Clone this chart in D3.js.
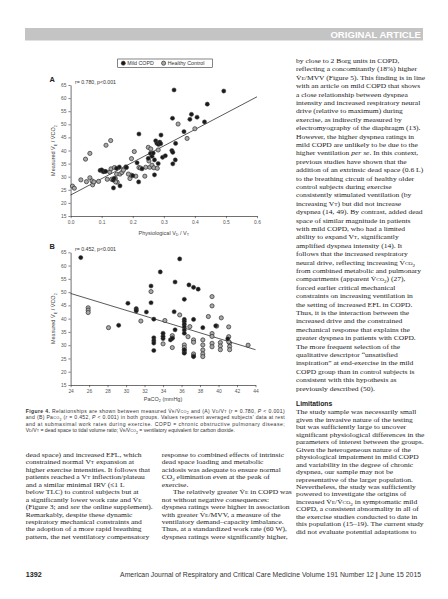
<!DOCTYPE html>
<html><head><meta charset="utf-8">
<script src="https://cdn.jsdelivr.net/npm/d3@7/dist/d3.min.js"></script>
<style>html,body{margin:0;padding:0;background:#fff;}svg{display:block;}</style>
</head><body>
<script>
// ---------------- DATA ----------------
const groups = ["Mild COPD", "Healthy Control"];
const xTicksA = [0.0, 0.1, 0.2, 0.3, 0.4, 0.5, 0.6];
const xTicksB = [24, 26, 28, 30, 32, 34, 36, 38, 40, 42, 44];
const yTicks = [15, 20, 25, 30, 35, 40, 45, 50, 55, 60, 65];
const statA = "r= 0.780, p<0.001";
const statB = "r= 0.452, p<0.001";
const regA = {intercept: 23.0, slope: 62.5};      // VE/VCO2 vs VD/VT
const regB = {intercept: 49.5, slope: -1.06, x0: 24};   // VE/VCO2 vs PaCO2

// Panel A: [VD/VT, VE/VCO2]
const copdA = [[0.333,63.1],[0.493,62.7],[0.44,57.7],[0.389,53.8],[0.407,52.7],[0.384,51.9],[0.328,52.3],[0.431,50.9],
 [0.365,47.2],[0.22,46.3],[0.291,45.9],[0.274,43.7],[0.278,42.7],[0.283,42.3],[0.287,43.2],[0.29,42.6],[0.338,42.7],
 [0.257,38.9],[0.326,40.0],[0.329,39.3],[0.296,37.4],[0.337,36.4],[0.27,36.4],[0.282,35.0],[0.329,34.9],[0.262,37.8],
 [0.266,39.0],[0.27,30.7],[0.214,35.3],[0.178,33.8],[0.095,32.4],[0.105,31.9],[0.113,32.0],[0.1,32.6],[0.137,28.7],
 [0.14,29.4],[0.138,25.7],[0.159,26.5],[0.2,30.4],[0.219,28.0],[0.157,33.7],[0.148,33.2],[0.18,33.5],[0.25,37.0],
 [0.23,33.0],[0.305,38.0]];
const healthyA = [[0.006,26.4],[0.012,25.6],[0.033,28.8],[0.048,36.7],[0.051,28.1],[0.062,38.9],[0.062,29.6],[0.069,28.4],
 [0.071,26.9],[0.09,28.2],[0.114,42.0],[0.129,43.8],[0.118,29.0],[0.126,31.8],[0.13,33.0],[0.141,33.5],[0.148,31.0],
 [0.144,29.3],[0.15,27.9],[0.159,31.0],[0.165,31.6],[0.17,32.5],[0.191,29.3],[0.195,30.6],[0.196,36.9],[0.205,39.6],
 [0.21,30.2],[0.22,33.5],[0.225,33.3],[0.239,30.2],[0.242,33.6],[0.25,41.2],[0.258,40.6],[0.255,33.6],[0.262,34.4],
 [0.268,33.4],[0.279,33.2],[0.282,40.2],[0.252,36.0],[0.346,50.1],[0.40,48.3],[0.375,44.6],[0.186,31.0],[0.132,29.0],
 [0.108,32.0],[0.075,28.0],[0.145,28.0]];

// Panel B: [PaCO2, VE/VCO2]
const copdB = [[25.1,63],[35.8,62.5],[33.7,57.6],[35.3,53.8],[32.7,52.3],[36.8,52.7],[37.3,51.8],[37.8,51.1],[36.3,47.3],
 [32.7,46],[30.2,45.8],[31.1,43.8],[31.1,43.3],[31.1,42.9],[32.2,42.5],[35.2,42.6],[33.0,39.8],[29.2,37.5],[36.3,39.7],
 [36.3,38.9],[36.3,37.9],[36.3,36.9],[36.3,35.7],[37.3,39.7],[38.3,36.6],[35.3,35.8],[33.0,32.8],[33.0,31.7],[33.0,30.8],
 [33.0,28.0],[34.0,32.5],[34.0,33.4],[34.8,32.0],[36.3,34.5],[36.3,27.0],[37.3,25.7],[39.7,37.3],[36.3,28.2],[41.0,32.4],
 [35.0,32.6],[34.0,34.5]];
const healthyB = [[25.9,44.1],[25.9,43.2],[25.9,42.3],[28.1,36.6],[31.6,39.1],[34.2,39.3],[32.7,50.2],[35.8,41.4],[36.9,37],
 [38.9,40.8],[39.3,48.3],[39.3,44.8],[39.3,34.4],[39.3,33.3],[35,33.6],[35,32.7],[35,29.1],[36.3,30.1],[36.3,29.1],
 [36.3,28.2],[36.3,27.4],[37.3,32],[37.3,31.1],[37.3,26.7],[37.3,25.9],[38.3,32],[38.3,30.1],[38.3,28.2],[38.3,26.7],
 [38.3,25.7],[39.3,30.7],[39.3,29.4],[36.7,33.2],[34.0,30.5],[40.3,40.3],[39.8,37.2],[40.2,31],[40.2,29.7],[40.2,28.3],
 [41.2,30.8],[41.2,29.5],[41.2,28.3],[41.1,36.9],[43.2,30],[41.1,33.2],[41.1,31.3]];

// ---------------- TEXT ----------------
const headerText = "ORIGINAL ARTICLE";
const captionLines = [
 "#Figure 4.#  Relationships are shown between measured V\u0307{E}/V\u0307{CO}[2] and (A) V{D}/V{T} (*r* = 0.780, *P* < 0.001)",
 "and (B) Pa{CO}[2] (*r* = 0.452, *P* < 0.001) in both groups. Values represent averaged subjects' data at rest",
 "and at submaximal work rates during exercise. COPD = chronic obstructive pulmonary disease;",
 "V{D}/V{T} = dead space to tidal volume ratio; V\u0307{E}/V\u0307{CO}[2] = ventilatory equivalent for carbon dioxide."
];
const leftCol = [
 "dead space) and increased EFL, which",
 "constrained normal V{T} expansion at",
 "higher exercise intensities. It follows that",
 "patients reached a V{T} inflection/plateau",
 "and a similar minimal IRV (\u22641 L",
 "below TLC) to control subjects but at",
 "a significantly lower work rate and V\u0307{E}",
 "(Figure 3; and *see* the online supplement).",
 "Remarkably, despite these dynamic",
 "respiratory mechanical constraints and",
 "the adoption of a more rapid breathing",
 "pattern, the net ventilatory compensatory"
];
const midCol = [
 "response to combined effects of intrinsic",
 "dead space loading and metabolic",
 "acidosis was adequate to ensure normal",
 "CO[2] elimination even at the peak of",
 "exercise.",
 "\u2003\u2002The relatively greater V\u0307{E} in COPD was",
 "not without negative consequences:",
 "dyspnea ratings were higher in association",
 "with greater V\u0307{E}/MVV, a measure of the",
 "ventilatory demand\u2013capacity imbalance.",
 "Thus, at a standardized work rate (60 W),",
 "dyspnea ratings were significantly higher,"
];
const rightCol = [
 "by close to 2 Borg units in COPD,",
 "reflecting a concomitantly (18%) higher",
 "V\u0307{E}/MVV (Figure 5). This finding is in line",
 "with an article on mild COPD that shows",
 "a close relationship between dyspnea",
 "intensity and increased respiratory neural",
 "drive (relative to maximum) during",
 "exercise, as indirectly measured by",
 "electromyography of the diaphragm (13).",
 "However, the higher dyspnea ratings in",
 "mild COPD are unlikely to be due to the",
 "higher ventilation *per se*. In this context,",
 "previous studies have shown that the",
 "addition of an extrinsic dead space (0.6 L)",
 "to the breathing circuit of healthy older",
 "control subjects during exercise",
 "consistently stimulated ventilation (by",
 "increasing V{T}) but did not increase",
 "dyspnea (14, 49). By contrast, added dead",
 "space of similar magnitude in patients",
 "with mild COPD, who had a limited",
 "ability to expand V{T}, significantly",
 "amplified dyspnea intensity (14). It",
 "follows that the increased respiratory",
 "neural drive, reflecting increasing V\u0307{CO}[2]",
 "from combined metabolic and pulmonary",
 "compartments (apparent V\u0307{CO}[2]) (27),",
 "forced earlier critical mechanical",
 "constraints on increasing ventilation in",
 "the setting of increased EFL in COPD.",
 "Thus, it is the interaction between the",
 "increased drive and the constrained",
 "mechanical response that explains the",
 "greater dyspnea in patients with COPD.",
 "The more frequent selection of the",
 "qualitative descriptor \u201cunsatisfied",
 "inspiration\u201d at end-exercise in the mild",
 "COPD group than in control subjects is",
 "consistent with this hypothesis as",
 "previously described (50)."
];
const limitHead = "Limitations";
const limitCol = [
 "The study sample was necessarily small",
 "given the invasive nature of the testing",
 "but was sufficiently large to uncover",
 "significant physiological differences in the",
 "parameters of interest between the groups.",
 "Given the heterogeneous nature of the",
 "physiological impairment in mild COPD",
 "and variability in the degree of chronic",
 "dyspnea, our sample may not be",
 "representative of the larger population.",
 "Nevertheless, the study was sufficiently",
 "powered to investigate the origins of",
 "increased V\u0307{E}/V\u0307{CO}[2] in symptomatic mild",
 "COPD, a consistent abnormality in all of",
 "the exercise studies conducted to date in",
 "this population (15\u201319). The current study",
 "did not evaluate potential adaptations to"
];
const pageNum = "1392";
const footer = "American Journal of Respiratory and Critical Care Medicine Volume 191 Number 12 | June 15 2015";

// ---------------- DRAW ----------------
const W = 448, H = 599;
const svg = d3.select("body").append("svg").attr("width", W).attr("height", H);
svg.append("rect").attr("width", W).attr("height", H).attr("fill", "#fff");

const SANS = "'Liberation Sans', Arial, sans-serif";
const SERIF = "'Liberation Serif', 'Times New Roman', serif";

// rich text: {x}=small caps, [x]=subscript, *x*=italic, #x#=bold
function rich(t, str, fs) {
  const parts = str.split(/(\{[^}]*\}|\[[^\]]*\]|\*[^*]*\*|#[^#]*#)/).filter(s => s.length);
  let shifted = false;
  const sh = fs * 0.3;
  parts.forEach(p => {
    const ts = t.append("tspan");
    let dy = 0;
    if (p[0] === "[") {
      ts.text(p.slice(1, -1)).attr("font-size", fs * 0.68);
      if (!shifted) { dy = sh; shifted = true; }
    } else {
      if (shifted) { dy = -sh; shifted = false; }
      if (p[0] === "{") ts.text(p.slice(1, -1)).attr("font-size", fs * 0.74);
      else if (p[0] === "*") ts.text(p.slice(1, -1)).attr("font-style", "italic");
      else if (p[0] === "#") ts.text(p.slice(1, -1)).attr("font-weight", "bold");
      else ts.text(p);
    }
    if (dy) ts.attr("dy", dy);
  });
  return t;
}

// header bar
svg.append("rect").attr("x", 25).attr("y", 28).attr("width", 398).attr("height", 12.5).attr("fill", "#c4c4c4");
svg.append("text").attr("x", 421).attr("y", 38.2).attr("text-anchor", "end")
  .attr("font-family", SANS).attr("font-weight", "bold").attr("font-size", 9.6)
  .attr("fill", "#fff").text(headerText);

// legend
const leg = svg.append("g");
leg.append("rect").attr("x", 117.7).attr("y", 59).attr("width", 94.6).attr("height", 8.4)
  .attr("fill", "#fff").attr("stroke", "#333").attr("stroke-width", 0.6);
const legItems = [{x: 123.3, tx: 127.3, fill: "#1a1a1a", stroke: "#444"}, {x: 163.6, tx: 167.8, fill: "#a8a8a8", stroke: "#222"}];
legItems.forEach((d, i) => {
  leg.append("circle").attr("cx", d.x).attr("cy", 63.2).attr("r", 2.1).attr("fill", d.fill).attr("stroke", d.stroke).attr("stroke-width", 0.6);
  leg.append("text").attr("x", d.tx).attr("y", 65.1).attr("font-family", SANS).attr("font-size", 5.3)
    .attr("fill", "#333").text(groups[i]);
});

function panel(cfg) {
  const g = svg.append("g");
  const x = d3.scaleLinear().domain(cfg.xDomain).range(cfg.xRange);
  const y = d3.scaleLinear().domain([15, 65]).range(cfg.yRange);
  const xa = g.append("g").attr("transform", `translate(0,${cfg.yRange[0]})`)
    .call(d3.axisBottom(x).tickValues(cfg.xTicks).tickFormat(cfg.fmt).tickSize(2.2).tickSizeOuter(0).tickPadding(2));
  const ya = g.append("g").attr("transform", `translate(${cfg.xRange[0]},0)`)
    .call(d3.axisLeft(y).tickValues(yTicks).tickSize(2.2).tickSizeOuter(0).tickPadding(2));
  [xa, ya].forEach(a => {
    a.select(".domain").attr("stroke", "#333").attr("stroke-width", 0.7);
    a.selectAll(".tick line").attr("stroke", "#333").attr("stroke-width", 0.6);
    a.selectAll(".tick text").attr("font-family", SANS).attr("font-size", 4.9).attr("fill", "#555");
  });
  // regression line
  const xs = cfg.xDomain;
  g.append("line").attr("x1", x(xs[0])).attr("y1", y(cfg.reg(xs[0])))
    .attr("x2", x(xs[1])).attr("y2", y(cfg.reg(xs[1])))
    .attr("stroke", "#222").attr("stroke-width", 0.75);
  // points
  g.selectAll(".h").data(cfg.healthy).enter().append("circle")
    .attr("cx", d => x(d[0])).attr("cy", d => y(d[1])).attr("r", 2.1)
    .attr("fill", "#a8a8a8").attr("stroke", "#222").attr("stroke-width", 0.65);
  g.selectAll(".c").data(cfg.copd).enter().append("circle")
    .attr("cx", d => x(d[0])).attr("cy", d => y(d[1])).attr("r", 2.1)
    .attr("fill", "#1a1a1a").attr("stroke", "#444").attr("stroke-width", 0.5);
  // labels
  g.append("text").attr("x", cfg.labX).attr("y", cfg.labY).attr("font-family", SANS).attr("font-weight", "bold")
    .attr("font-size", 7.4).attr("fill", "#222").text(cfg.label);
  g.append("text").attr("x", 75).attr("y", cfg.labY + 2).attr("font-family", SANS)
    .attr("font-size", 5.2).attr("fill", "#333").text(cfg.stat);
  const cy = (cfg.yRange[0] + cfg.yRange[1]) / 2;
  rich(g.append("text").attr("transform", `translate(${cfg.ytX},${cy}) rotate(-90)`).attr("text-anchor", "middle")
    .attr("font-family", SANS).attr("font-size", 5.5).attr("fill", "#444"), "Measured V\u0307[E] / V\u0307CO[2]", 5.5);
  rich(g.append("text").attr("x", (cfg.xRange[0] + cfg.xRange[1]) / 2).attr("y", cfg.xtY).attr("text-anchor", "middle")
    .attr("font-family", SANS).attr("font-size", 5.5).attr("fill", "#444"), cfg.xTitle, 5.5);
}

panel({xDomain: [0, 0.6], xRange: [70.6, 257], yRange: [216, 85], xTicks: xTicksA, fmt: d3.format(".1f"),
  reg: v => regA.intercept + regA.slope * v, healthy: healthyA, copd: copdA, label: "A", labX: 49.5, labY: 82,
  stat: statA, ytX: 55, xtY: 234.5, xTitle: "Physiological V[D] / V[T]"});
panel({xDomain: [24, 44], xRange: [70.6, 255.5], yRange: [385, 252.3], xTicks: xTicksB, fmt: d3.format("d"),
  reg: v => regB.intercept + regB.slope * (v - regB.x0), healthy: healthyB, copd: copdB, label: "B", labX: 49.5, labY: 249.2,
  stat: statB, ytX: 55, xtY: 400.5, xTitle: "PaCO[2] (mmHg)"});

// caption
captionLines.forEach((s, i) => {
  const t = svg.append("text").attr("x", 25.7).attr("y", 412.5 + i * 6.5)
    .attr("font-family", SANS).attr("font-size", 5.1).attr("fill", "#333");
  rich(t, s, 5.1);
  if (i < 3) t.attr("textLength", 259).attr("lengthAdjust", "spacing");
});

// body columns: Times-like face widened horizontally to approximate the journal's text face
const BODY_FS = 6.4, BODY_SX = 1.18;
function column(lines, x0, y0, lh) {
  const g = svg.append("g").attr("transform", `translate(${x0},0) scale(${BODY_SX},1)`);
  lines.forEach((s, i) => {
    const t = g.append("text").attr("x", 0).attr("y", y0 + i * lh)
      .attr("font-family", SERIF).attr("font-size", BODY_FS).attr("fill", "#222");
    rich(t, s, BODY_FS);
  });
}
column(leftCol, 25.7, 457, 7.45);
column(midCol, 161.7, 457, 7.45);
column(rightCol, 296, 63, 8.4);
svg.append("text").attr("x", 296).attr("y", 406.3).attr("font-family", SANS).attr("font-weight", "bold")
  .attr("font-size", 6.8).attr("fill", "#222").text(limitHead);
column(limitCol, 296, 414.5, 7.45);

// footer
svg.append("text").attr("x", 25.7).attr("y", 576.5).attr("font-family", SANS).attr("font-weight", "bold")
  .attr("font-size", 7.2).attr("fill", "#222").text(pageNum);
const ft = svg.append("text").attr("x", 421).attr("y", 576.5).attr("text-anchor", "end")
  .attr("font-family", SANS).attr("font-size", 6.85).attr("fill", "#333");
const fparts = footer.split("|");
ft.append("tspan").text(fparts[0]);
ft.append("tspan").attr("font-weight", "bold").text("|");
ft.append("tspan").text(fparts[1]);
</script>
</body></html>
